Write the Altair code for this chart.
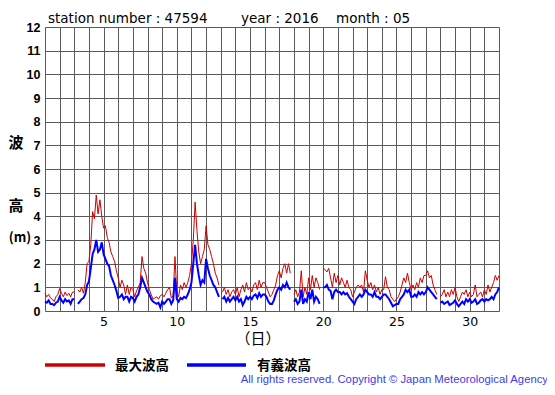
import altair as alt
import pandas as pd

N = None

# 3-hourly samples, day 1.000 ... day 32.000 (8 per day)
max_wave = [
    0.75, 0.6, 0.7, 0.55, 0.5, 0.4, 0.6, 0.7,        # 1
    0.95, 0.75, 0.6, 0.8, 0.65, 0.75, 0.6, 0.8,      # 2
    0.8, N, 0.9, 0.8, 1.0, 0.75, 1.2, 2.0,           # 3
    2.1, 2.8, 4.2, 3.9, 4.9, 4.1, 4.7, 4.0,          # 4
    3.5, 3.6, 3.1, 2.9, 2.5, 2.3, 2.1, 1.7,          # 5
    1.4, 1.0, 1.3, 1.1, 0.7, 1.1, 0.7, 1.0,          # 6
    0.9, 0.6, 0.85, 1.0, 1.2, 2.3, 1.8, 1.6,         # 7
    1.2, 0.9, 0.7, 0.5, 0.55, 0.6, 0.5, 0.65,        # 8
    0.7, 0.6, 0.75, 0.9, 1.0, 0.55, 0.65, 2.3,       # 9
    0.8, 0.6, 1.1, 0.9, 1.2, 1.0, 1.2, 1.5,          # 10
    2.0, 3.0, 4.6, 3.4, 2.5, 2.0, 2.3, 2.6,          # 11
    3.6, 2.8, 2.6, 2.3, 2.0, 1.6, 1.4, 1.1,          # 12
    N, 0.8, 1.0, 0.7, 0.9, 0.6, 0.8, 0.9,            # 13
    0.7, 1.0, 0.6, 0.9, 1.1, 0.8, 1.2, 0.9,          # 14
    1.0, 0.8, 1.1, 1.2, 0.9, 1.3, 1.0, 1.2,          # 15
    1.2, 1.0, 0.8, 0.6, 0.7, 0.9, 1.1, 1.5,          # 16
    1.7, 1.4, 1.8, 2.0, 1.6, 2.0, 1.6, N,            # 17
    0.7, 0.9, 0.6, 0.8, 1.7, 0.6, 1.0, 0.7,          # 18
    1.4, 0.9, 1.5, 1.0, 1.4, 1.2, 0.9, N,            # 19
    1.8, 1.75, 1.65, 1.8, 1.4, 1.0, 1.6, 1.2,        # 20
    1.5, 1.1, 1.4, 1.2, 1.0, 1.3, 1.0, 0.9,          # 21
    0.6, 0.8, 1.0, 1.1, 1.0, 1.1, 0.8, 1.7,          # 22
    1.3, 1.0, 1.2, 0.9, 1.1, 0.8, 1.0, 0.7,          # 23
    0.9, 0.9, 1.45, 1.0, 0.9, 0.6, 0.5, 0.4,         # 24
    0.5, 0.6, 0.8, 1.1, 1.4, 1.2, 1.6, 1.2,          # 25
    0.9, 1.1, 0.9, 1.2, 1.0, 1.4, 1.2, 1.5,          # 26
    1.5, 1.7, 1.4, 1.5, 1.1, 0.9, 0.7, N,            # 27
    0.6, 0.7, 0.9, 0.6, 0.8, 0.6, 0.9, 0.7,          # 28
    1.0, 0.6, 0.4, 0.6, 0.8, 0.7, 0.9, 0.6,          # 29
    0.8, 0.6, 0.7, 1.1, 0.6, 0.7, 0.8, 0.6,          # 30
    0.9, 0.7, 1.1, 0.8, 1.0, 1.2, 1.5, 1.3,          # 31
    1.5,                                             # 32
]

sig_wave = [
    0.4, 0.35, 0.45, 0.3, 0.3, 0.25, 0.35, 0.4,      # 1
    0.6, 0.45, 0.35, 0.5, 0.4, 0.45, 0.3, 0.5,       # 2
    0.5, N, 0.3, 0.4, 0.5, 0.55, 0.7, 1.1,           # 3
    1.25, 1.8, 2.4, 2.6, 3.0, 2.5, 2.6, 2.9,         # 4
    2.4, 2.2, 2.0, 1.9, 1.5, 1.3, 1.1, 0.85,         # 5
    0.55, 0.6, 0.7, 0.5, 0.6, 0.6, 0.4, 0.6,         # 6
    0.55, 0.4, 0.6, 0.7, 1.0, 1.4, 1.2, 1.0,         # 7
    0.8, 0.7, 0.5, 0.4, 0.35, 0.3, 0.35, 0.15,       # 8
    0.4, 0.3, 0.4, 0.5, 0.5, 0.3, 0.45, 1.4,         # 9
    0.5, 0.4, 0.55, 0.5, 0.6, 0.55, 0.7, 0.9,        # 10
    1.2, 2.0, 2.8, 2.0, 1.5, 1.1, 1.3, 1.2,          # 11
    2.2, 1.8, 1.5, 1.3, 1.1, 1.0, 0.8, 0.6,          # 12
    N, 0.5, 0.6, 0.4, 0.55, 0.4, 0.5, 0.6,           # 13
    0.45, 0.6, 0.4, 0.5, 0.25, 0.4, 0.6, 0.5,        # 14
    0.6, 0.5, 0.65, 0.7, 0.55, 0.75, 0.6, 0.7,       # 15
    0.7, 0.6, 0.4, 0.3, 0.3, 0.45, 0.7, 0.9,         # 16
    1.0, 0.9, 1.1, 1.0, 1.2, 1.0, 0.9, N,            # 17
    0.4, 0.5, 0.3, 0.4, 0.9, 0.3, 0.5, 0.4,          # 18
    0.8, 0.5, 0.9, 0.4, 0.6, 0.5, 0.3, N,            # 19
    1.0, 1.0, 1.1, 0.9, 0.85, 0.5, 0.8, 0.9,         # 20
    0.8, 0.8, 0.7, 0.8, 0.7, 0.75, 0.6, 0.5,         # 21
    0.4, 0.3, 0.5, 0.6, 0.7, 0.6, 0.7, 0.9,          # 22
    0.8, 0.7, 0.7, 0.6, 0.8, 0.6, 0.6, 0.5,          # 23
    0.6, 0.7, 0.7, 0.6, 0.5, 0.35, 0.2, 0.25,        # 24
    0.3, 0.3, 0.5, 0.6, 0.7, 0.9, 0.8, 0.9,          # 25
    0.6, 0.6, 0.7, 0.6, 0.8, 0.7, 0.8, 0.7,          # 26
    0.8, 1.0, 0.9, 0.8, 0.7, 0.6, 0.5, N,            # 27
    0.35, 0.4, 0.3, 0.35, 0.4, 0.25, 0.3, 0.35,      # 28
    0.45, 0.3, 0.2, 0.3, 0.4, 0.3, 0.5, 0.4,         # 29
    0.5, 0.35, 0.4, 0.5, 0.3, 0.35, 0.45, 0.5,       # 30
    0.4, 0.5, 0.45, 0.5, 0.6, 0.5, 0.7, 0.8,         # 31
    1.0,                                             # 32
]

x_ticks = list(range(1, 33))
y_ticks = list(range(0, 13))

title_parts = ["station number : 47594", "year : 2016", "month : 05"]
legend_labels = ["最大波高", "有義波高"]
x_title = "（日）"
y_title = ["波", "高", "(m)"]
copyright_text = "All rights reserved. Copyright © Japan Meteorological Agency"

RED = "#cc0000"
BLUE = "#0000ff"


def to_frame(vals):
    rows, seg = [], 0
    for i, v in enumerate(vals):
        if v is None:
            seg += 1
            continue
        rows.append({"t": 1 + i / 8, "v": v, "seg": seg})
    return pd.DataFrame(rows)


x_enc = alt.X(
    "t:Q",
    scale=alt.Scale(domain=[1, 32], nice=False, zero=False),
    axis=alt.Axis(
        values=x_ticks, tickCount=100, format="d",
        labelExpr="datum.value % 5 == 0 ? datum.label : ''",
        grid=True, gridColor="#5a5a5a", gridWidth=1,
        ticks=False, domain=False, title=None,
        labelFont="DejaVu Sans", labelFontSize=12.5, labelColor="black",
        labelPadding=4, labelOverlap=False, labelFlush=False,
    ),
)
y_enc = alt.Y(
    "v:Q",
    scale=alt.Scale(domain=[0, 12], nice=False),
    axis=alt.Axis(
        values=y_ticks, tickCount=100, format="d",
        grid=True, gridColor="#5a5a5a", gridWidth=1,
        ticks=False, domain=False, title=None,
        labelFont="Liberation Sans", labelFontSize=12.5, labelFontWeight="bold",
        labelColor="black", labelPadding=5, labelOverlap=False,
    ),
)

red = alt.Chart(to_frame(max_wave)).mark_line(color=RED, strokeWidth=1).encode(
    x=x_enc, y=y_enc, detail="seg:N"
)
blue = alt.Chart(to_frame(sig_wave)).mark_line(color=BLUE, strokeWidth=2).encode(
    x="t:Q", y="v:Q", detail="seg:N"
)

one = alt.Data(values=[{}])


def txt(s, x, y, size, font, weight="normal", align="left", color="black", baseline="alphabetic"):
    return alt.Chart(one).mark_text(
        text=s, fontSize=size, font=font, fontWeight=weight,
        align=align, baseline=baseline, color=color,
    ).encode(x=alt.value(x), y=alt.value(y))


def rule(x1, x2, y, color):
    return alt.Chart(one).mark_rule(color=color, strokeWidth=3.5).encode(
        x=alt.value(x1), x2=alt.value(x2), y=alt.value(y)
    )


texts = [
    txt(title_parts[0], 3, -4, 13.5, "DejaVu Sans"),
    txt(title_parts[1], 196, -4, 13.5, "DejaVu Sans"),
    txt(title_parts[2], 291, -4, 13.5, "DejaVu Sans"),
    txt(y_title[0], -29, 116, 15, "Noto Sans CJK JP", "bold", "center", baseline="middle"),
    txt(y_title[1], -29, 179, 15, "Noto Sans CJK JP", "bold", "center", baseline="middle"),
    txt(y_title[2], -25, 211, 13, "Noto Sans CJK JP", "bold", "center", baseline="middle"),
    txt(x_title, 213, 312, 15, "Noto Sans CJK JP", "normal", "center", baseline="middle"),
    rule(0, 60, 338, RED),
    txt(legend_labels[0], 70, 339, 13.5, "Noto Sans CJK JP", "bold", baseline="middle"),
    rule(142, 201, 338, BLUE),
    txt(legend_labels[1], 212, 339, 13.5, "Noto Sans CJK JP", "bold", baseline="middle"),
    txt(copyright_text, 503, 356, 11.3, "Liberation Sans", "normal", "right", color="#3b3bf0", baseline="alphabetic"),
]

chart = alt.layer(red, blue, *texts).properties(
    width=454,
    height=284,
    padding={"left": 37, "top": 19, "right": 48, "bottom": 74},
    autosize=alt.AutoSizeParams(type="none"),
).configure_view(stroke="black", strokeWidth=1.5).configure(background="white")

chart.save("out.html", embed_options={"renderer": "svg", "actions": False})
